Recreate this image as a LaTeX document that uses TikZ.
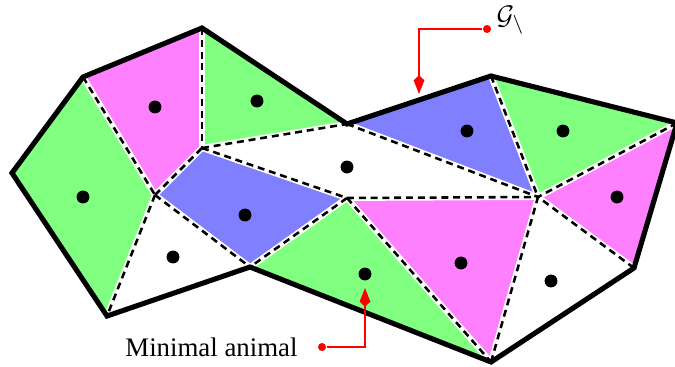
\documentclass[tikz,border=0pt]{standalone}
\usepackage{fontspec}
\setmainfont{Liberation Serif}
\usetikzlibrary{arrows.meta}
\definecolor{gr}{HTML}{80FF80}
\definecolor{pk}{HTML}{FF80FF}
\definecolor{bl}{HTML}{8080FF}
\tikzset{
  wedge/.style={draw=white,line width=2.2pt},
  dedge/.style={draw=black,line width=0.95pt,dash pattern=on 2.6pt off 1.8pt},
  rim/.style={draw=black,line width=1.9pt,line join=miter},
  pt/.style={circle,fill=black,inner sep=0pt,minimum size=4.8pt},
  rdot/.style={circle,fill=red,inner sep=0pt,minimum size=3pt},
  rar/.style={-{Kite[length=7pt,width=4pt,inset=1.9pt]},draw=red,line width=0.45pt},
}

\begin{document}
\begin{tikzpicture}[x=0.0131cm,y=-0.0131cm]
\useasboundingbox (0,0) rectangle (675,366);
\coordinate (A) at (12,173); \coordinate (B) at (83,77); \coordinate (C) at (202,28);
\coordinate (D) at (347,124); \coordinate (E) at (491,76); \coordinate (F) at (677,123);
\coordinate (G) at (634,268); \coordinate (H) at (491,362); \coordinate (I) at (250,267);
\coordinate (J) at (107,316); \coordinate (K) at (155,195); \coordinate (L) at (202,148);
\coordinate (M) at (347,198); \coordinate (N) at (538,197);
\fill[gr] (A)--(B)--(K)--(J)--cycle;
\fill[pk] (B)--(C)--(L)--(K)--cycle;
\fill[gr] (C)--(D)--(L)--cycle;
\fill[bl] (K)--(L)--(M)--(I)--cycle;
\fill[bl] (D)--(E)--(N)--cycle;
\fill[gr] (E)--(F)--(N)--cycle;
\fill[pk] (F)--(G)--(N)--cycle;
\fill[pk] (M)--(N)--(H)--cycle;
\fill[gr] (M)--(H)--(I)--cycle;
\foreach \a/\b in {B/K,K/J,C/L,K/L,L/D,L/M,K/I,M/I,M/H,M/N,D/N,E/N,F/N,G/N,H/N}
  \draw[wedge] (\a)--(\b);
\foreach \a/\b in {B/K,K/J,C/L,K/L,L/D,L/M,K/I,M/I,M/H,M/N,D/N,E/N,F/N,G/N,H/N}
  \draw[dedge] (\a)--(\b);
\draw[rim] (A)--(B)--(C)--(D)--(E)--(F)--(G)--(H)--(I)--(J)--cycle;
\foreach \n/\p in {p1/{(83,197)},p2/{(155,107)},p3/{(257,101)},p4/{(347,167)},
  p5/{(467,131)},p6/{(563,131)},p7/{(617,197)},p8/{(245,215)},
  p9/{(173,257)},p10/{(365,274)},p11/{(461,263)},p12/{(551,281)}}
  \node[pt] (\n) at \p {};
\node[rdot] (gdot) at (487,29) {};
\node[anchor=base west,inner sep=0pt] (glab) at (496,25) {$\mathcal{G}_\backslash$};
\coordinate (gtip) at (419,94);
\draw[rar] (gdot) -| (gtip);
\node[rdot] (adot) at (322,347) {};
\node[anchor=east,inner sep=0pt] (alab) at (298,347) {Minimal animal};
\coordinate (atip) at (365,288);
\draw[rar] (adot) -| (atip);
\end{tikzpicture}
\end{document}
